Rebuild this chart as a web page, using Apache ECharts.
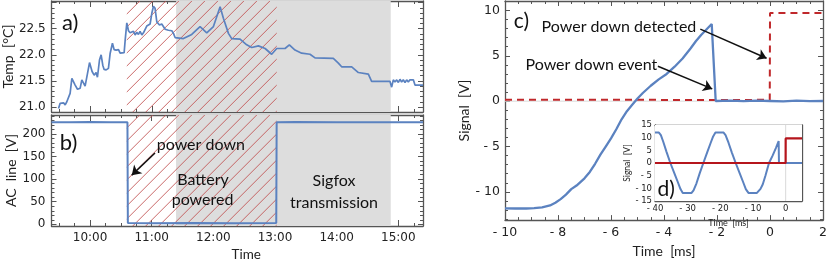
<!DOCTYPE html>
<html><head><meta charset="utf-8">
<script src="https://cdn.jsdelivr.net/npm/echarts@6/dist/echarts.min.js"></script>
<style>html,body{margin:0;padding:0;background:#fff}#c{width:830px;height:263px}</style>
</head><body><div id="c"></div>
<script>
// ---------- DATA ----------
// Panel a: temperature (time in minutes since midnight)
const tempTime = [569.2,570.8,574.1,575.7,577.3,578.9,580.5,582.2,583.8,585.4,587.7,590.3,591.9,593.5,595.1,597.4,599.4,600.6,601.9,603.9,605.8,607.1,609.1,610.7,612.3,613.6,615.6,617.8,619.5,621.7,623.3,625.3,627.6,629.2,633.1,634.1,635.7,637.3,638.9,640.5,642.2,643.8,645.4,647.0,648.6,650.3,651.9,655.1,658.4,660.0,661.6,663.2,664.9,667.5,669.7,673.0,676.2,679.5,681.1,682.7,684.3,690.8,698.9,707.0,713.5,720.0,723.2,726.5,729.7,734.6,737.8,745.9,752.4,757.3,763.8,770.3,776.7,781.6,789.7,793.9,799.4,805.9,814.0,818.9,836.7,841.6,844.8,854.6,861.1,870.8,874.0,891.9,893.5,895.1,896.7,898.4,900.0,901.6,903.2,904.8,906.5,908.1,909.7,911.3,914.6,916.2,921.1,924.0];
const tempValue = [20.97,21.07,21.08,21.04,21.10,21.13,21.26,21.55,21.57,21.42,21.34,21.36,21.52,21.49,21.40,21.64,21.85,21.84,21.68,21.61,21.66,21.57,21.90,22.00,21.80,21.72,21.71,21.74,22.03,22.22,22.10,22.09,22.10,22.03,22.04,22.28,22.61,22.46,22.42,22.40,22.45,22.38,22.43,22.39,22.45,22.38,22.42,22.55,22.59,22.79,22.93,22.89,22.63,22.57,22.59,22.49,22.47,22.46,22.41,22.33,22.31,22.31,22.39,22.54,22.42,22.54,22.73,22.92,22.70,22.41,22.31,22.30,22.19,22.14,22.17,22.12,22.01,22.12,22.12,22.19,22.09,22.03,22.01,21.94,21.93,21.84,21.77,21.77,21.66,21.63,21.49,21.49,21.38,21.52,21.48,21.52,21.47,21.53,21.48,21.52,21.47,21.52,21.48,21.52,21.52,21.42,21.42,21.42];
// Panel b: AC line voltage
const acTime  = [562.5,580,600,620,636.4,636.8,660,700,740,781.2,781.6,800,840,880,924];
const acValue = [226,225.5,226.5,225.8,226,3,2.5,3,2.5,3,226,226.5,225.5,226,226];
// Shaded periods (minutes)
const hatchSpan = [635.7, 781.6];   // battery powered
const graySpan  = [683.7, 892.6];   // sigfox transmission window
const hourTicks = [600,660,720,780,840,900];
const quarterTicks = [570,585,615,630,645,675,690,705,735,750,765,795,810,825,855,870,885,915];
const tempLabels = [21.0,21.5,22.0,22.5];
// Panel c: signal (ms, V)
const sigTime = [-10,-9.6,-9.2,-8.9,-8.6,-8.3,-8.1,-7.9,-7.7,-7.5,-7.3,-7.0,-6.8,-6.6,-6.4,-6.2,-6.0,-5.8,-5.6,-5.4,-5.2,-5.0,-4.8,-4.5,-4.2,-3.9,-3.6,-3.3,-3.0,-2.8,-2.6,-2.4,-2.2,-2.15,-2.05,-1.5,-1.0,-0.5,0,0.5,1.0,1.5,2.0];
const sigBlue = [-11.82,-11.83,-11.83,-11.8,-11.7,-11.5,-11.2,-10.8,-10.3,-9.7,-9.3,-8.5,-7.8,-6.9,-5.9,-5.0,-4.1,-3.1,-2.0,-1.1,-0.4,0.3,0.9,1.7,2.4,3.0,3.8,4.7,5.8,6.6,7.3,7.9,8.5,8.65,0.02,0.05,0.0,0.05,0.02,-0.03,0.05,0.0,0.02];
const detTime = [-10,-5,-2,-0.01,0,2];
const detRed  = [0.15,0.15,0.12,0.15,9.72,9.72];
// Panel d (inset)
const insetTime = [-40,-38.8,-38.2,-37.5,-36.5,-35.3,-34,-33,-32.2,-31.5,-28.8,-28.2,-27.3,-26.3,-25.2,-24,-23,-22.2,-21.5,-19,-18.4,-17.5,-16.5,-15.3,-14,-13,-12.2,-11.4,-8.8,-8.3,-7.7,-7,-6.2,-5.1,-4,-3,-2.15,-2.05,5];
const insetBlue = [12,12,11,8.5,4.5,0,-4.3,-7.6,-10.3,-11.8,-11.8,-10.8,-8,-4,0,4.3,7.8,10.5,12,12,11,8,4.2,0,-4.3,-7.6,-10.3,-11.8,-11.8,-11.5,-10.2,-8.4,-5.0,0,2.9,5.9,8.65,0,0];
const insetDetTime = [-40,-0.01,0,5];
const insetDetRed  = [0,0,9.7,9.7];

// ---------- STYLE ----------
const BLUE = '#5b82c0', RED = '#c0282b', FRAME = '#555', TXT = '#222', HATCHCOL = 'rgb(192,78,78)';
const TICKFONT = 'DejaVu Sans', NAMEFONT = 'Lato';
const zip = (a, b) => a.map((v, i) => [v, b[i]]);
const fmtNeg = v => (v < 0 ? '- ' + Math.abs(v) : String(v));
const fmtHour = v => Math.floor(v / 60) + ':' + String(Math.round(v % 60)).padStart(2, '0');

function axis(o) {
  const a = {
    type: 'value', gridIndex: o.grid, position: o.pos, min: o.min, max: o.max,
    splitLine: { show: false },
    axisLine: { show: o.line !== false, onZero: false, lineStyle: { color: FRAME, width: 1.3 } },
    axisTick: { show: true, inside: true, length: o.tickLen || 5, lineStyle: { color: FRAME, width: 1 } },
    axisLabel: { show: !!o.labels, margin: o.margin || 6, color: TXT, fontFamily: TICKFONT, fontSize: o.fs || 12,
                 formatter: o.fmt || fmtNeg, showMinLabel: o.showMin === undefined ? false : o.showMin,
                 showMaxLabel: o.showMax === undefined ? false : o.showMax },
    minorTick: { show: !!o.minor, splitNumber: o.minor || 5, length: 3, lineStyle: { color: FRAME, width: 1 } }
  };
  if (o.interval !== undefined) a.interval = o.interval;
  if (o.splitNumber !== undefined) a.splitNumber = o.splitNumber;
  if (o.tickValues) a.axisTick.customValues = o.tickValues;
  if (o.labelValues) a.axisLabel.customValues = o.labelValues;
  if (o.name) {
    a.name = o.name; a.nameLocation = 'middle'; a.nameGap = o.nameGap;
    a.nameTextStyle = Object.assign({ fontFamily: NAMEFONT, fontSize: o.nameSize || 14, color: TXT }, o.nameExtra || {});
  }
  return a;
}

const T0 = 562.5, T1 = 924;
const xAxes = [
  // grid 0 (a)
  axis({ grid: 0, pos: 'bottom', min: T0, max: T1, tickValues: hourTicks, tickLen: 6 }),
  axis({ grid: 0, pos: 'bottom', min: T0, max: T1, tickValues: quarterTicks, tickLen: 3, line: false }),
  axis({ grid: 0, pos: 'top', min: T0, max: T1, tickValues: hourTicks, tickLen: 6 }),
  axis({ grid: 0, pos: 'top', min: T0, max: T1, tickValues: quarterTicks, tickLen: 3, line: false }),
  // grid 1 (b)
  axis({ grid: 1, pos: 'bottom', min: T0, max: T1, tickValues: hourTicks, labelValues: hourTicks, labels: true,
         fmt: fmtHour, showMin: true, showMax: true, tickLen: 6, name: 'Time', nameGap: 22, nameSize: 13.5,
         nameExtra: { padding: [0, 0, 0, 18] } }),
  axis({ grid: 1, pos: 'bottom', min: T0, max: T1, tickValues: quarterTicks, tickLen: 3, line: false }),
  axis({ grid: 1, pos: 'top', min: T0, max: T1, tickValues: hourTicks, tickLen: 6 }),
  axis({ grid: 1, pos: 'top', min: T0, max: T1, tickValues: quarterTicks, tickLen: 3, line: false }),
  // grid 2 (c)
  axis({ grid: 2, pos: 'bottom', min: -10, max: 2, interval: 2, minor: 4, labels: true, showMin: true, showMax: true,
         fs: 12.5, margin: 6, name: 'Time  [ms]', nameGap: 22 }),
  axis({ grid: 2, pos: 'top', min: -10, max: 2, interval: 2, minor: 4 }),
  // grid 3 (d)
  axis({ grid: 3, pos: 'bottom', min: -40, max: 5, interval: 10, minor: 5, labels: true, showMin: true, showMax: false,
         fs: 8.5, margin: 3, tickLen: 3, name: 'Time  [ms]', nameGap: 17.5, nameSize: 9 }),
  axis({ grid: 3, pos: 'top', min: -40, max: 5, interval: 10, minor: 5, tickLen: 3 })
];
const yAxes = [
  axis({ grid: 0, pos: 'left', min: 20.904, max: 23.03, splitNumber: 4, minor: 5, labels: true,
         labelValues: tempLabels, showMin: true, showMax: true,
         fmt: v => v.toFixed(1), name: 'Temp  [°C]', nameGap: 30 }),
  axis({ grid: 0, pos: 'right', min: 20.904, max: 23.03, splitNumber: 4, minor: 5 }),
  axis({ grid: 1, pos: 'left', min: -3.7, max: 241.8, splitNumber: 5, minor: 5, labels: true,
         name: 'AC  line  [V]', nameGap: 30 }),
  axis({ grid: 1, pos: 'right', min: -3.7, max: 241.8, splitNumber: 5, minor: 5 }),
  axis({ grid: 2, pos: 'left', min: -13.11, max: 11.04, splitNumber: 5, minor: 5, labels: true, fs: 12.5,
         margin: 5, name: 'Signal  [V]', nameGap: 30 }),
  axis({ grid: 2, pos: 'right', min: -13.11, max: 11.04, splitNumber: 5, minor: 5 }),
  axis({ grid: 3, pos: 'left', min: -15, max: 15, interval: 5, labels: true, showMin: true, showMax: true,
         fs: 8.5, margin: 3, tickLen: 3, name: 'Signal  [V]', nameGap: 20, nameSize: 8.5 }),
  axis({ grid: 3, pos: 'right', min: -15, max: 15, interval: 5, tickLen: 3 })
];

const noSym = { showSymbol: false, symbol: 'none' };
function textPoints(items, size) {
  return {
    symbol: 'circle', symbolSize: 0, silent: true, animation: false,
    itemStyle: { color: 'rgba(0,0,0,0)' },
    label: { show: true, position: 'inside', color: '#111', fontFamily: NAMEFONT, fontSize: size || 16 },
    data: items.map(it => ({ coord: it.c, label: Object.assign({ formatter: it.t }, it.l || {}) }))
  };
}
function arrows(pairs) {
  return {
    silent: true, animation: false, symbol: ['none', 'arrow'], symbolSize: 9,
    lineStyle: { color: '#111', width: 1.5, type: 'solid' }, label: { show: false },
    data: pairs.map(p => [{ coord: p[0] }, { coord: p[1] }])
  };
}
const grayArea = {
  silent: true,
  data: [[{ xAxis: graySpan[0], itemStyle: { color: '#dddddd', opacity: 1 } }, { xAxis: graySpan[1] }]]
};
// Diagonal hatching over the battery-powered span, positioned via the axis scale.
function hatchSeries(xi, yi) {
  return {
    type: 'custom', xAxisIndex: xi, yAxisIndex: yi, silent: true, z: 2,
    data: [[hatchSpan[0], hatchSpan[1]]],
    encode: { x: [0, 1] },
    renderItem(params, api) {
      const cs = params.coordSys;
      const xa = api.coord([api.value(0), 0])[0];
      const xb = api.coord([api.value(1), 0])[0];
      const y0 = cs.y, y1 = cs.y + cs.height, step = 13;
      const children = [];
      for (let c = xa + y0 - step * 2; c <= xb + y1 + step; c += step) {
        children.push({ type: 'line', shape: { x1: c - y1, y1: y1, x2: c - y0, y2: y0 },
          style: { stroke: HATCHCOL, lineWidth: 0.85, fill: null } });
      }
      return { type: 'group', children,
        clipPath: { type: 'rect', shape: { x: xa, y: y0, width: xb - xa, height: y1 - y0 } } };
    }
  };
}

const option = {
  animation: false,
  backgroundColor: '#fff',
  grid: [
    { left: 51.5, top: 1, width: 371.5, height: 111 },
    { left: 51.5, top: 115, width: 371.5, height: 112 },
    { left: 505, top: 1, width: 322, height: 226 },
    { left: 655, top: 125, width: 147, height: 76, show: true, backgroundColor: '#fff', borderWidth: 0, z: 5 }
  ],
  xAxis: xAxes,
  yAxis: yAxes,
  series: [
    hatchSeries(0, 0),
    hatchSeries(4, 2),
    Object.assign({ type: 'line', xAxisIndex: 0, yAxisIndex: 0, data: zip(tempTime, tempValue), z: 3,
      lineStyle: { color: BLUE, width: 1.7 }, itemStyle: { color: BLUE }, markArea: grayArea,
      markPoint: textPoints([{ c: [580.5, 22.61], t: 'a)' }], 22) }, noSym),
    Object.assign({ type: 'line', xAxisIndex: 4, yAxisIndex: 2, data: zip(acTime, acValue), z: 3,
      lineStyle: { color: BLUE, width: 2 }, itemStyle: { color: BLUE }, markArea: grayArea,
      markLine: arrows([[[663.2, 157.9], [640.6, 108.8]]]),
      markPoint: textPoints([
        { c: [579.1, 180.5], t: 'b)', l: { fontSize: 22 } },
        { c: [707.8, 176], t: 'power down' },
        { c: [709.9, 97.8], t: 'Battery' },
        { c: [709.5, 53.9], t: 'powered' },
        { c: [837.4, 95.6], t: 'Sigfox' },
        { c: [837.4, 48.2], t: 'transmission' }
      ], 16) }, noSym),
    Object.assign({ type: 'line', xAxisIndex: 8, yAxisIndex: 4, data: zip(detTime, detRed), z: 3,
      lineStyle: { color: RED, width: 2, type: [7, 5] }, itemStyle: { color: RED } }, noSym),
    Object.assign({ type: 'line', xAxisIndex: 8, yAxisIndex: 4, data: zip(sigTime, sigBlue), z: 4,
      lineStyle: { color: BLUE, width: 2.3 }, itemStyle: { color: BLUE },
      markLine: arrows([[[-2.63, 7.94], [-0.13, 4.73]], [[-4.23, 3.85], [-2.18, 1.35]]]),
      markPoint: textPoints([
        { c: [-9.38, 8.82], t: 'c)', l: { fontSize: 21 } },
        { c: [-5.70, 8.15], t: 'Power down detected' },
        { c: [-6.74, 3.99], t: 'Power down event' }
      ], 16) }, noSym),
    Object.assign({ type: 'line', xAxisIndex: 8, yAxisIndex: 4, data: [[-10, 0], [2, 0]], z: 1,
      lineStyle: { color: '#d9d9d9', width: 1 }, itemStyle: { color: '#d9d9d9' }, silent: true }, noSym),
    Object.assign({ type: 'line', xAxisIndex: 10, yAxisIndex: 6, data: [[0, -15], [0, 15]], z: 6,
      lineStyle: { color: '#d9d9d9', width: 1 }, silent: true }, noSym),
    Object.assign({ type: 'line', xAxisIndex: 10, yAxisIndex: 6, data: zip(insetTime, insetBlue), z: 7,
      lineStyle: { color: BLUE, width: 2 }, itemStyle: { color: BLUE },
      markPoint: textPoints([{ c: [-36.6, -10.3], t: 'd)' }], 21) }, noSym),
    Object.assign({ type: 'line', xAxisIndex: 10, yAxisIndex: 6, data: zip(insetDetTime, insetDetRed), z: 8,
      lineStyle: { color: '#b5151c', width: 2.2 }, itemStyle: { color: '#b5151c' } }, noSym)
  ]
};
const chart = echarts.init(document.getElementById('c'), null, { renderer: 'canvas' });
chart.setOption(option);
</script></body></html>
